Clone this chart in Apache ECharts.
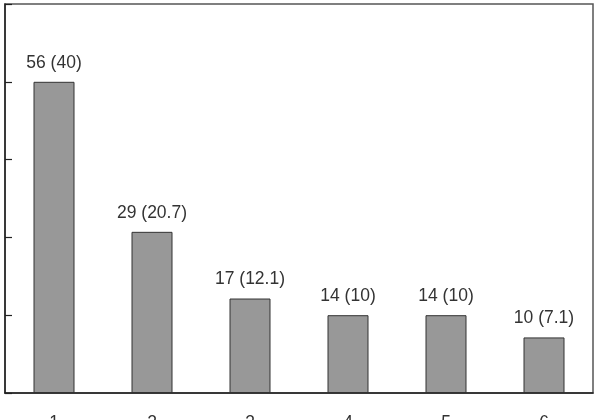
<!DOCTYPE html>
<html>
<head>
<meta charset="utf-8">
<script src="https://cdn.jsdelivr.net/npm/echarts@6/dist/echarts.min.js"></script>
<style>
  html, body { margin: 0; padding: 0; background: #fff; }
  #chart { width: 595px; height: 420px; }
</style>
</head>
<body>
<div id="chart"></div>
<script>
var categories = ['1', '2', '3', '4', '5', '6'];
var counts = [56, 29, 17, 14, 14, 10];
var percents = [40, 20.7, 12.1, 10, 10, 7.1];
var yTicks = [0, 14, 28, 42, 56, 70];

var chart = echarts.init(document.getElementById('chart'));
chart.setOption({
  animation: false,
  grid: {
    left: 5,
    right: 2,
    top: 4,
    bottom: 27,
    containLabel: false,
    outerBoundsMode: 'none',
    show: true,
    borderColor: '#555',
    borderWidth: 1.5,
    backgroundColor: '#fff'
  },
  xAxis: {
    type: 'category',
    data: categories,
    axisLine: { lineStyle: { color: '#222', width: 1.5 } },
    axisTick: { inside: true, length: 6, lineStyle: { color: '#222', width: 1.2 } },
    axisLabel: { margin: 21, fontSize: 17.5, color: '#333', fontFamily: 'Liberation Sans' }
  },
  yAxis: {
    type: 'value',
    min: yTicks[0],
    max: yTicks[yTicks.length - 1],
    interval: yTicks[1] - yTicks[0],
    splitLine: { show: false },
    axisLine: { show: true, lineStyle: { color: '#222', width: 1.5 } },
    axisTick: { show: true, inside: true, length: 7, lineStyle: { color: '#222', width: 1.2 } },
    axisLabel: { show: false }
  },
  series: [{
    type: 'bar',
    data: counts,
    barWidth: 41,
    itemStyle: { color: '#989898', borderColor: '#333', borderWidth: 1 },
    label: {
      show: true,
      position: 'top',
      distance: 10,
      fontSize: 17.5,
      color: '#333',
      fontFamily: 'Liberation Sans',
      formatter: function (p) {
        return counts[p.dataIndex] + ' (' + percents[p.dataIndex] + ')';
      }
    }
  }]
});
</script>
</body>
</html>
